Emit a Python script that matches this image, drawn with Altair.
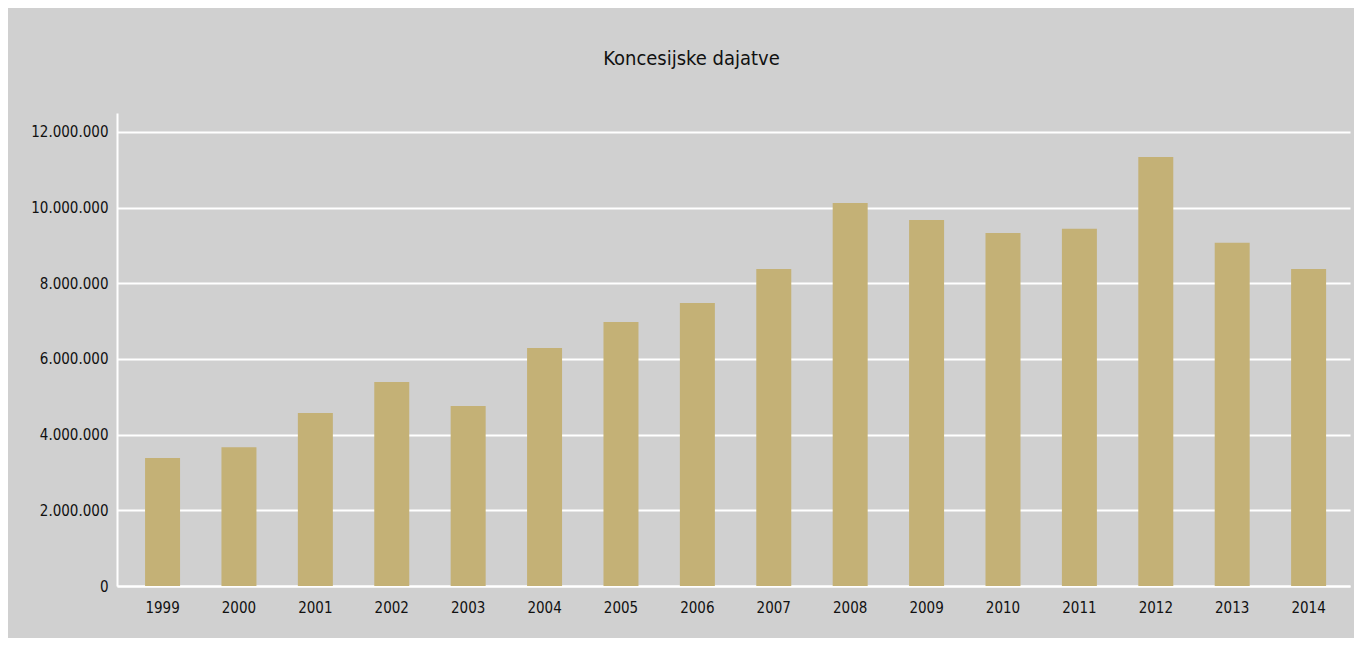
import altair as alt
import pandas as pd

years = ["1999", "2000", "2001", "2002", "2003", "2004", "2005", "2006",
         "2007", "2008", "2009", "2010", "2011", "2012", "2013", "2014"]
values = [3380000, 3670000, 4570000, 5390000, 4760000, 6290000, 6980000, 7480000,
          8380000, 10120000, 9670000, 9330000, 9440000, 11340000, 9070000, 8380000]
title_text = "Koncesijske dajatve"
y_ticks = [0, 2000000, 4000000, 6000000, 8000000, 10000000, 12000000]

df = pd.DataFrame({"year": years, "value": values})

FONT = "DejaVu Sans Condensed, Liberation Sans, sans-serif"

chart = alt.Chart(df).mark_bar(color="#c4b176").encode(
    x=alt.X("year:N", title=None, sort=years,
            scale=alt.Scale(paddingInner=0.542, paddingOuter=0.34, align=0.54),
            axis=alt.Axis(labelAngle=0, ticks=False, domain=True, domainColor="white",
                          domainWidth=2, labelFont=FONT, labelFontSize=15,
                          labelColor="#111111", labelPadding=14, grid=False)),
    y=alt.Y("value:Q", title=None,
            scale=alt.Scale(domain=[0, 12500000], nice=False),
            axis=alt.Axis(values=y_ticks, ticks=False, domain=True, domainColor="white",
                          domainWidth=2, grid=True, gridColor="white", gridWidth=2,
                          labelFont=FONT, labelFontSize=15, labelColor="#111111",
                          labelPadding=9,
                          labelExpr="replace(format(datum.value, ',d'), /,/g, '.')")),
).properties(
    width=1233,
    height=473,
    title=alt.TitleParams(title_text, font=FONT, fontSize=20, fontWeight="normal",
                          color="#111111", offset=44, dx=-42, anchor="middle"),
    background="#d0d0d0",
    padding={"left": 109, "top": 105, "right": 4, "bottom": 52},
    autosize=alt.AutoSizeParams(type="none"),
).configure_view(stroke=None, fill="#d0d0d0")

chart.save("out.html", embed_options={"renderer": "svg", "actions": False})
